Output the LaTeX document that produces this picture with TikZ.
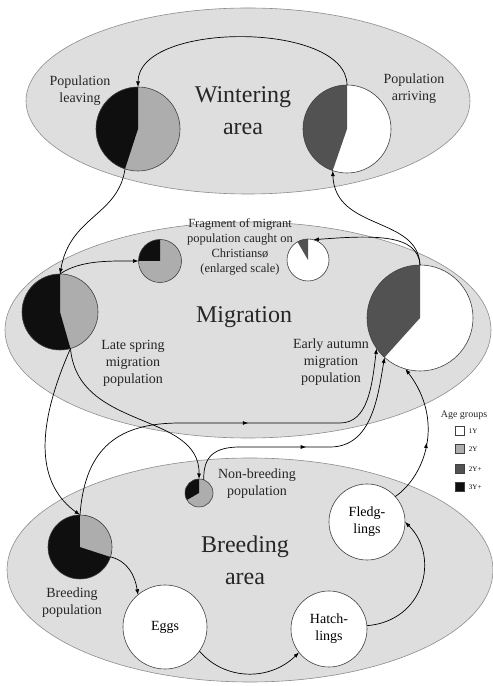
\documentclass[tikz,border=0pt]{standalone}
\usepackage{fontspec}
\setmainfont{Liberation Serif}
\usetikzlibrary{arrows.meta,decorations.markings,positioning}

\definecolor{areagray}{gray}{0.87}
\definecolor{edgegray}{gray}{0.55}
\definecolor{agetwo}{gray}{0.68}
\definecolor{agetwoplus}{gray}{0.32}
\definecolor{agethree}{gray}{0.06}

\tikzset{
  area/.style={fill=areagray, draw=edgegray, line width=0.6pt},
  pop/.style={circle, draw=black!75, line width=0.6pt, inner sep=0pt, outer sep=0pt, minimum size=#1, align=center, font=\fontsize{14}{17}\selectfont},
  share/.style n args={3}{path picture={\fill[#1] (path picture bounding box.center) -- ++(#2:80) arc[start angle=#2, end angle=#3, radius=80] -- cycle;}},
  flow/.style={-{Latex[length=5.5pt,width=4pt]}, line width=0.7pt},
  midarrow/.style={postaction={decorate}, decoration={markings, mark=at position #1 with {\arrow{Latex[length=5.5pt,width=4pt]}}}},
  areatext/.style={font=\fontsize{24}{32}\selectfont, align=center, text=black!85},
  txt/.style={font=\fontsize{14}{17}\selectfont, align=center, text=black!85},
  key/.style={draw=black!75, line width=0.5pt, minimum size=9pt, inner sep=0pt},
  keytext/.style={font=\fontsize{7}{8}\selectfont, inner sep=0pt},
}

\begin{document}
\begin{tikzpicture}[x=1pt, y=1pt]
    \useasboundingbox (0,0) rectangle (493,686);

    % Areas
    \draw[area] (248,585) ellipse [x radius=222, y radius=93];
    \draw[area] (248,356) ellipse [x radius=243, y radius=108];
    \draw[area] (250,116) ellipse [x radius=243, y radius=112];

    % Populations
    \node[pop=84pt, fill=agetwo, share={agethree}{90}{252}] (leaving) at (138,557) {};
    \node[pop=88pt, fill=white, share={agetwoplus}{90}{251}] (arriving) at (347,557) {};
    \node[pop=76pt, fill=agetwo, share={agethree}{90}{286}] (spring) at (60,374) {};
    \node[pop=43pt, fill=agetwo, share={agethree}{90}{180}] (caughtspring) at (160,425) {};
    \node[pop=42pt, fill=white, share={agetwoplus}{90}{120}] (caughtautumn) at (308,426) {};
    \node[pop=106pt, fill=white, share={agetwoplus}{90}{228}] (autumn) at (420,368) {};
    \node[pop=64pt, fill=agethree, share={agetwo}{-18}{90}] (breeders) at (80,139) {};
    \node[pop=28pt, fill=agetwo, share={agethree}{90}{210}] (nonbreeders) at (199,193) {};
    \node[pop=84pt, fill=white] (eggs) at (165,59) {Eggs};
    \node[pop=76pt, fill=white] (hatch) at (329,57) {Hatch-\\lings};
    \node[pop=76pt, fill=white] (fledge) at (367,164) {Fledg-\\lings};

    % Labels
    \node[areatext] (wintering) at (243,575) {Wintering\\area};
    \node[areatext] (migration) at (244,369) {Migration};
    \node[areatext] (breeding) at (245,126) {Breeding\\area};
    \node[txt] (leavingtext) at (80,595) {Population\\leaving};
    \node[txt] (arrivingtext) at (414,597) {Population\\arriving};
    \node[txt, font=\fontsize{12.5}{15}\selectfont] (caughttext) at (240,439) {Fragment of migrant\\population caught on\\Christiansø\\(enlarged scale)};
    \node[txt] (springtext) at (133,323) {Late spring\\migration\\population};
    \node[txt] (autumntext) at (331,324) {Early autumn\\migration\\population};
    \node[txt] (nonbreedtext) at (257,202) {Non-breeding\\population};
    \node[txt] (breedtext) at (72,83) {Breeding\\population};

    % Legend
    \node[font=\fontsize{10}{12}\selectfont, text=black!85] (agegroups) at (464,271) {Age groups};
    \node[key, fill=white] (keyone) at (460,255) {};
    \node[key, fill=agetwo] (keytwo) at (460,237) {};
    \node[key, fill=agetwoplus] (keytwoplus) at (460,217) {};
    \node[key, fill=agethree] (keythree) at (460,199) {};
    \node[keytext, right=4pt of keyone] (oneyear) {1Y};
    \node[keytext, right=4pt of keytwo] (twoyear) {2Y};
    \node[keytext, right=4pt of keytwoplus] (twoplus) {2Y+};
    \node[keytext, right=4pt of keythree] (threeplus) {3Y+};

    % Arrows
    \draw[flow] (arriving.90) .. controls (347,665) and (138,665) .. (leaving.90);
    \draw[flow] (leaving.252) .. controls (118,470) and (70,470) .. (spring.90);
    \draw[flow] (spring.90) .. controls (80,426) and (110,425) .. (caughtspring.180);
    \draw[flow] (autumn.90) .. controls (418,470) and (335,455) .. (arriving.251);
    \draw[flow] (autumn.90) .. controls (418,452) and (375,451) .. (caughtautumn.75);
    \draw[flow] (spring.286) .. controls (32,250) and (40,200) .. (breeders.90);
    \draw[flow] (spring.286) .. controls (78,255) and (200,275) .. (nonbreeders.90);
    \draw[flow, midarrow=0.55] (breeders.90) .. controls (85,240) and (120,263) .. (180,263) -- (340,263) .. controls (368,263) and (372,300) .. (autumn.215);
    \draw[flow, midarrow=0.47] (nonbreeders.70) .. controls (203,230) and (215,239) .. (240,239) -- (330,239) .. controls (372,239) and (378,290) .. (autumn.228);
    \draw[flow, midarrow=0.45] (fledge.42) .. controls (425,210) and (445,265) .. (autumn.254);
    \draw[flow] (breeders.-18) .. controls (128,125) and (135,110) .. (eggs.130);
    \draw[flow] (eggs.-35) .. controls (225,5) and (270,5) .. (hatch.218);
    \draw[flow] (hatch.5) .. controls (425,65) and (440,130) .. (fledge.0);
\end{tikzpicture}
\end{document}
